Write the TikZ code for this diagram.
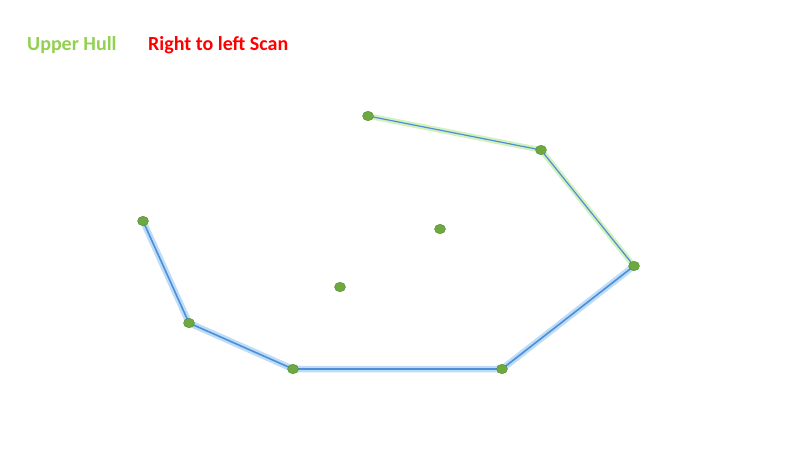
\documentclass[tikz,border=0pt]{standalone}
\usepackage{fontspec}
\setmainfont{Carlito}
\usepackage{xcolor}
\usetikzlibrary{shapes.geometric}
\definecolor{hullGreen}{HTML}{92D050}
\definecolor{scanRed}{HTML}{FF0000}
\definecolor{lineBlue}{HTML}{4A90D9}
\definecolor{glowBlue}{HTML}{A8D0F5}
\definecolor{glowGreen}{HTML}{C6EBA6}
\definecolor{dotGreen}{HTML}{6EA840}
\definecolor{dotDark}{HTML}{4F8A2C}

\begin{document}
\begin{tikzpicture}[
    x=1pt, y=-1pt,
    pt/.style={ellipse, draw=dotDark, line width=0.4pt, fill=dotGreen,
               minimum width=11pt, minimum height=9.5pt, inner sep=0pt},
    lowglow/.style={line width=6.5pt, glowBlue, opacity=0.75, line cap=round, line join=round},
    upglow/.style={line width=5.5pt, glowGreen, opacity=0.75, line cap=round, line join=round},
    core/.style={line width=1.6pt, lineBlue},
    legend/.style={font=\fontsize{20}{24}\selectfont\bfseries, anchor=west, inner sep=0pt},
  ]
  \useasboundingbox (0,0) rectangle (811,457);

  % --- legend ---
  \node[legend, text=hullGreen] (upper) at (27,45) {Upper Hull};
  \node[legend, text=scanRed]   (scan)  at (148,45) {Right to left Scan};

  % --- hull points ---
  \coordinate (a) at (143,221);
  \coordinate (b) at (189,323);
  \coordinate (c) at (293,369);
  \coordinate (d) at (502,369);
  \coordinate (e) at (634,266);
  \coordinate (f) at (541,150);
  \coordinate (g) at (368,116);

  % --- glows ---
  \draw[lowglow] (a) -- (b) -- (c) -- (d) -- (e);
  \draw[upglow] (e) -- (f) -- (g);
  % --- edges ---
  \draw[core] (a) -- (b);
  \draw[core] (b) -- (c);
  \draw[core] (c) -- (d);
  \draw[core] (d) -- (e);
  \draw[core, line width=1.2pt] (e) -- (f);
  \draw[core, line width=1.2pt] (f) -- (g);

  % --- points ---
  \foreach \p in {a,b,c,d,e,f,g}
    \node[pt] (n\p) at (\p) {};
  \node[pt] (inner1) at (440,229) {};
  \node[pt] (inner2) at (340,287) {};

\end{tikzpicture}
\end{document}
